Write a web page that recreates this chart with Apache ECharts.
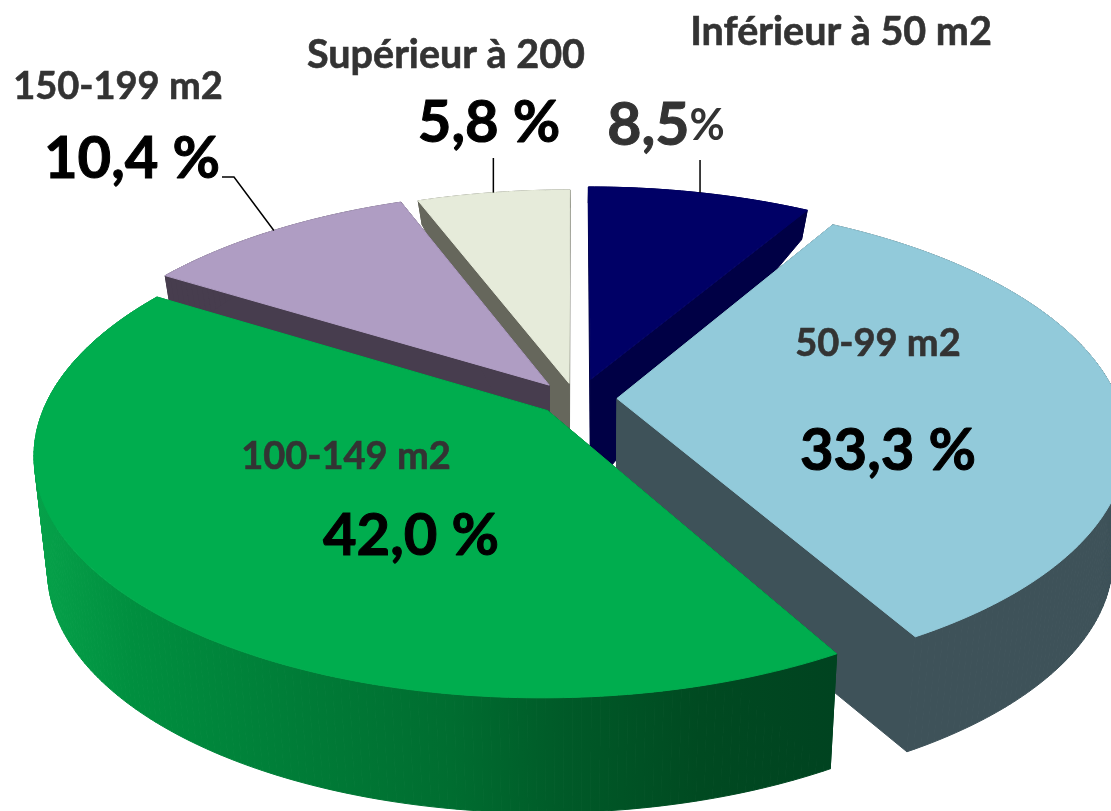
<!DOCTYPE html>
<html lang="fr" style="height: 100%">

<head>
  <meta charset="utf-8">
</head>

<body style="height: 100%; margin: 0; background: #fff">
  <div id="container" style="height: 811px; width: 1111px"></div>

  <script type="text/javascript" src="https://cdn.jsdelivr.net/npm/echarts@6/dist/echarts.min.js"></script>
  <script type="text/javascript">
    // clockwise from 12 o'clock
    const categories = ['Inférieur à 50 m2', '50-99 m2', '100-149 m2', '150-199 m2', 'Supérieur à 200'];
    const shares = [8.5, 33.3, 42.0, 10.4, 5.8];

    // how far each slice is pulled out of the pie, in the plane of the disc, px
    const explodeX = [16, 42, -27, -26, -6];
    const explodeZ = [-41, 1, 27, -28, -32];
    const topColors = ['#000066', '#92CADA', '#00AD4E', '#AF9DC3', '#E6EBDA'];
    const sideColors = ['#000045', '#3E5259', null, '#473D4E', '#66675C'];
    // back slices first, the green one goes on top of everything
    const drawOrder = [0, 4, 3, 1, 2];

    const cx = 575, cy = 398;
    const R = 500, kR = 232;
    const persp = 0.175;

    function project(x, z) {
      const s = 1 / (1 - persp * z);
      return [cx + x * R * s, cy + z * kR * s, z];
    }
    function floorOf(p) {
      // the wall is full height from the middle forward and gets thin at the back
      const h = Math.min(115, 119 + 95 * p[2]);
      return [579 + (p[0] - 579) * 0.975, p[1] + h];
    }

    let acc = 0;
    const slices = shares.map(function (v, i) {
      const a0 = acc / 100 * Math.PI * 2;
      acc += v;
      const a1 = acc / 100 * Math.PI * 2;
      const mid = (a0 + a1) / 2;
      const ox = explodeX[i] / R;
      const oz = explodeZ[i] / R;
      const ring = [project(ox, oz)];
      const n = Math.ceil((a1 - a0) / 0.015);
      for (let k = 0; k <= n; k++) {
        const a = a0 + (a1 - a0) * k / n;
        ring.push(project(ox + Math.sin(a), oz - Math.cos(a)));
      }
      return { ring: ring, rim: project(ox + Math.sin(mid), oz - Math.cos(mid)) };
    });

    const greenSide = new echarts.graphic.LinearGradient(35, 0, 835, 0, [
      { offset: 0, color: '#06A24A' },
      { offset: 0.12, color: '#008F3F' },
      { offset: 0.33, color: '#007C37' },
      { offset: 0.52, color: '#006D30' },
      { offset: 0.66, color: '#005A28' },
      { offset: 0.83, color: '#004A21' },
      { offset: 1, color: '#004320' }
    ], true);

    function renderSlice(params, api) {
      const i = api.value(0);
      const ring = slices[i].ring;
      const fill = sideColors[i] || greenSide;
      const children = [];
      for (let k = 0; k < ring.length; k++) {
        const p = ring[k], q = ring[(k + 1) % ring.length];
        children.push({
          type: 'polygon',
          shape: { points: [p.slice(0, 2), q.slice(0, 2), floorOf(q), floorOf(p)] },
          style: { fill: fill, stroke: fill, lineWidth: 1 }
        });
      }
      children.push({
        type: 'polygon',
        shape: { points: ring.map(function (p) { return p.slice(0, 2); }) },
        style: { fill: topColors[i], stroke: topColors[i], lineWidth: 1 }
      });
      return { type: 'group', children: children };
    }

    function pct(i) {
      return shares[i].toFixed(1).replace('.', ',');
    }
    function text(str, x, y, size, color, weight) {
      return {
        type: 'text', x: x, y: y, z: 100,
        style: {
          text: str, fill: color, stroke: color, lineWidth: weight,
          font: 'bold ' + size + 'px Lato',
          textAlign: 'center', textVerticalAlign: 'middle'
        }
      };
    }
    function leader(points) {
      return {
        type: 'polyline', z: 90,
        shape: { points: points },
        style: { stroke: '#000', fill: null, lineWidth: 1.5 }
      };
    }

    const labels = [
      text(categories[0], 841, 32, 39.5, '#333', 0.6),
      text(categories[1], 878, 344, 38, '#333', 0.6),
      text(categories[2], 346, 457, 38, '#333', 0.6),
      text(categories[3], 118, 87, 38, '#333', 0.6),
      text(categories[4], 446, 55, 39.5, '#333', 0.6),
      {
        type: 'text', x: 666, y: 126, z: 100,
        style: {
          text: '{n|' + pct(0) + '}{p|%}',
          textAlign: 'center', textVerticalAlign: 'middle',
          rich: {
            n: { font: 'bold 59px Lato', fill: '#333', stroke: '#333', lineWidth: 1 },
            p: { font: 'bold 43px Lato', fill: '#333' }
          }
        }
      },
      text(pct(1) + ' %', 888, 451, 58, '#000', 1),
      text(pct(2) + ' %', 411, 536, 58, '#000', 1),
      text(pct(3) + ' %', 132, 159, 58, '#000', 1),
      text(pct(4) + ' %', 489, 123, 58, '#000', 1),
      leader([[slices[0].rim[0], 160], slices[0].rim.slice(0, 2)]),
      leader([[slices[4].rim[0], 158], slices[4].rim.slice(0, 2)]),
      leader([[222, 177], [234, 177], slices[3].rim.slice(0, 2)])
    ];

    const myChart = echarts.init(document.getElementById('container'), null, { renderer: 'canvas' });
    myChart.setOption({
      animation: false,
      series: [{
        type: 'custom',
        coordinateSystem: 'none',
        renderItem: renderSlice,
        data: drawOrder.map(function (i) { return [i, shares[i]]; }),
        silent: true
      }],
      graphic: { elements: labels }
    });
  </script>
</body>

</html>
